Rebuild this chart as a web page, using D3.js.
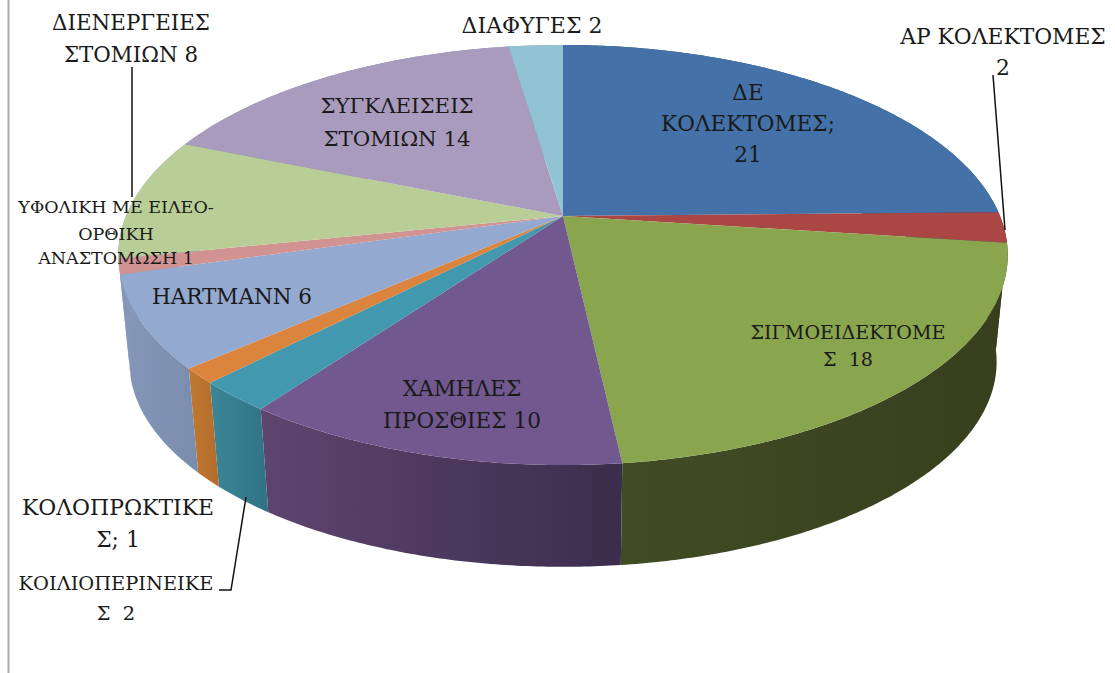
<!DOCTYPE html>
<html lang="el">

<head>
    <meta charset="utf-8">
    <title>Pie</title>
    <script src="https://d3js.org/d3.v7.min.js"></script>
</head>
<style>
    body { margin: 0; background: #fff; }
    text { font-family: "DejaVu Serif", serif; fill: #1a1a1a; text-anchor: middle; }
</style>

<body>
    <script>

     // values, clockwise from 12 o'clock
     var sliceValues = [21, 2, 18, 10, 2, 1, 6, 1, 8, 14, 2];

     var sliceColors = ["#4472a8", "#aa4643", "#89a54e", "#71588f", "#4198af", "#db843d",
                        "#93a9cf", "#d19392", "#b9cd96", "#a99bbd", "#92c3d5"];
     var wallLeft = ["#2a4567", "#682b29", "#414c24", "#5d4570", "#3a8698", "#c0772f",
                     "#8497b9", "#8497b9", "#8497b9", "#8497b9", "#8497b9"];
     var wallRight = ["#2a4567", "#682b29", "#373f1e", "#3c2d4c", "#317385", "#b36d2c",
                      "#7b8daf", "#8497b9", "#8497b9", "#8497b9", "#8497b9"];

     var labelLines = [
         ["ΔΙΑΦΥΓΕΣ 2"],
         ["ΑΡ ΚΟΛΕΚΤΟΜΕΣ", "2"],
         ["ΔΕ", "ΚΟΛΕΚΤΟΜΕΣ;", "21"],
         ["ΔΙΕΝΕΡΓΕΙΕΣ", "ΣΤΟΜΙΩΝ 8"],
         ["ΣΥΓΚΛΕΙΣΕΙΣ", "ΣΤΟΜΙΩΝ 14"],
         ["ΥΦΟΛΙΚΗ ΜΕ ΕΙΛΕΟ-", "ΟΡΘΙΚΗ", "ΑΝΑΣΤΟΜΩΣΗ 1"],
         ["HARTMANN 6"],
         ["ΣΙΓΜΟΕΙΔΕΚΤΟΜΕ", "Σ\u00a0\u00a018"],
         ["ΧΑΜΗΛΕΣ", "ΠΡΟΣΘΙΕΣ 10"],
         ["ΚΟΛΟΠΡΩΚΤΙΚΕ", "Σ; 1"],
         ["ΚΟΙΛΙΟΠΕΡΙΝΕΙΚΕ", "Σ\u00a0\u00a02"]
     ];

     // layout of the labels: centre x, baseline of each line, font size
     var labelX = [532, 1003, 748, 131, 397, 116, 232, 848, 462, 118, 116];
     var labelY = [[33], [44, 75], [100, 131, 162], [30, 62], [113, 146],
                   [213, 240, 264], [304], [339, 366], [396, 428], [515, 547], [590, 620]];
     var labelSize = [22, 21.8, 21.6, 21.4, 21.3, 17.5, 21.5, 19.1, 21.6, 21.9, 19.4];

     var leaders = [
         [[132, 67], [132, 197]],
         [[993, 75], [1005, 230]],
         [[246, 497], [231, 590], [219, 590]]
     ];

     var width = 1115, height = 673;

     var svg = d3.select("body").append("svg")
                 .attr("width", width)
                 .attr("height", height)
                 .style("display", "block");

     var defs = svg.append("defs");

     svg.append("line")
        .attr("x1", 8.5).attr("x2", 8.5)
        .attr("y1", 0).attr("y2", height)
        .attr("stroke", "#aaaaaa")
        .attr("stroke-width", 2);

     // Disc seen in perspective: the pie centre sits above the centre of the ellipse.
     var tilt = 0.1857;
     var topDisc = {cx: 563, cy: 216, a: 437, b: 202.8};
     var bottomDisc = {cx: 563, cy: 324, a: 437 * 0.975, b: 202.8 * 0.975};

     function project(disc, angle) {
         var x = Math.sin(angle), y = -Math.cos(angle), w = 1 - tilt * y;
         return {"x": disc.cx + disc.a * x / w, "y": disc.cy + disc.b * y / w};
     }

     function arcPoints(disc, d) {
         var n = Math.max(2, Math.ceil((d.endAngle - d.startAngle) / 0.01));
         return d3.range(n + 1).map(function(i) {
             return project(disc, d.startAngle + (d.endAngle - d.startAngle) * i / n);
         });
     }

     var lineFunction = d3.line()
                          .x(function(d) { return d.x; })
                          .y(function(d) { return d.y; });

     var slices = d3.pie().sort(null)(sliceValues);

     // walls first, the top face then hides whatever is behind it
     slices.forEach(function(d, i) {
         var top = arcPoints(topDisc, d);
         var bottom = arcPoints(bottomDisc, d).reverse();
         var xs = d3.extent(top.concat(bottom), function(p) { return p.x; });
         var grad = defs.append("linearGradient")
                        .attr("id", "wall" + i)
                        .attr("gradientUnits", "userSpaceOnUse")
                        .attr("x1", xs[0]).attr("x2", xs[1])
                        .attr("y1", 0).attr("y2", 0);
         grad.append("stop").attr("offset", 0).attr("stop-color", wallLeft[i]);
         grad.append("stop").attr("offset", 1).attr("stop-color", wallRight[i]);
         svg.append("path")
            .attr("d", lineFunction(top.concat(bottom)) + "Z")
            .attr("fill", "url(#wall" + i + ")");
     });

     slices.forEach(function(d, i) {
         var centre = {"x": topDisc.cx, "y": topDisc.cy};
         svg.append("path")
            .attr("d", lineFunction([centre].concat(arcPoints(topDisc, d))) + "Z")
            .attr("fill", sliceColors[i]);
     });

     leaders.forEach(function(l) {
         svg.append("path")
            .attr("d", d3.line()(l))
            .attr("fill", "none")
            .attr("stroke", "#111")
            .attr("stroke-width", 1.5);
     });

     labelLines.forEach(function(lines, i) {
         lines.forEach(function(t, j) {
             svg.append("text")
                .attr("x", labelX[i])
                .attr("y", labelY[i][j])
                .attr("font-size", labelSize[i])
                .text(t);
         });
     });

    </script>
</body>

</html>
